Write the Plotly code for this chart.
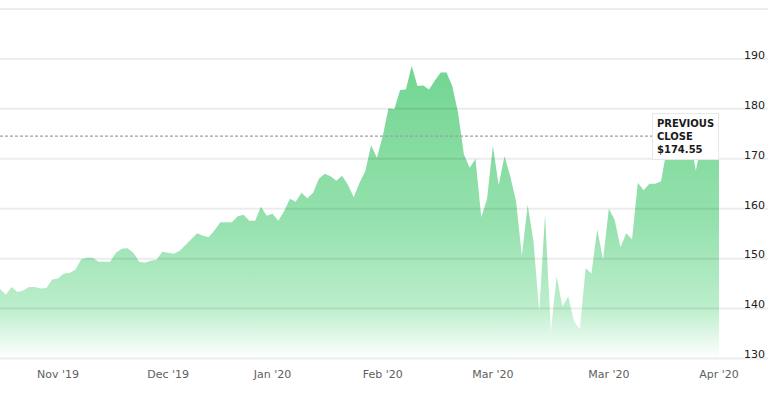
import plotly.graph_objects as go

# closing prices (one per trading session, in order)
prices = [143.9, 142.75, 144.3, 143.3, 143.6, 144.3, 144.3, 144.0, 144.1, 145.8,
          146.0, 147.0, 147.1, 147.8, 149.9, 150.2, 150.2, 149.4, 149.4, 149.4,
          151.2, 152.0, 152.1, 151.2, 149.4, 149.2, 149.6, 149.8, 151.4, 151.2,
          151.0, 151.6, 152.8, 153.8, 155.1, 154.6, 154.3, 155.7, 157.3, 157.3,
          157.3, 158.5, 158.8, 157.6, 157.6, 160.4, 158.6, 159.0, 157.6, 159.5,
          162.0, 161.4, 163.2, 162.1, 163.2, 166.0, 167.0, 166.5, 165.6, 166.6,
          164.8, 162.3, 165.2, 167.5, 172.7, 170.2, 174.5, 180.1, 179.9, 183.8,
          183.9, 188.6, 184.6, 184.7, 183.9, 185.7, 187.3, 187.3, 184.6, 179.2,
          170.9, 168.2, 170.0, 158.3, 162.0, 172.6, 164.7, 170.5, 166.5, 161.5,
          150.6, 160.8, 153.5, 139.4, 158.8, 135.4, 146.4, 140.4, 142.4, 137.4,
          135.9, 148.1, 147.0, 155.9, 149.8, 160.0, 157.8, 152.3, 155.1, 153.9,
          165.2, 163.7, 165.0, 165.0, 165.5, 172.0, 174.0, 175.5, 176.0, 174.5,
          167.6, 173.5, 175.0, 174.55, 176.5]
session = list(range(len(prices)))

previous_close = 174.55

x_tick_positions = [10, 29, 47, 66, 85, 105, 124]
x_tick_labels = ["Nov '19", "Dec '19", "Jan '20", "Feb '20", "Mar '20", "Mar '20", "Apr '20"]

y_tick_values = [130, 140, 150, 160, 170, 180, 190, 200]
y_tick_labels = ["130", "140", "150", "160", "170", "180", "190", ""]

fig = go.Figure()
fig.add_trace(go.Scatter(
    x=session, y=prices, mode="lines", fill="tozeroy",
    line=dict(width=0, color="rgba(112,213,144,1)"),
    fillgradient=dict(
        type="vertical", start=130, stop=190,
        colorscale=[[0, "rgba(255,255,255,1)"],
                    [0.17, "rgb(188,238,204)"],
                    [0.45, "rgb(150,225,174)"],
                    [1, "rgb(112,213,144)"]],
    ),
    hoverinfo="skip", showlegend=False,
))

# horizontal grid lines drawn above the area so they show through it
for v in y_tick_values:
    fig.add_shape(type="line", xref="paper", yref="y", x0=0, x1=1, y0=v, y1=v,
                  line=dict(color="rgba(0,0,0,0.075)", width=2), layer="above")

fig.add_shape(type="line", xref="x", yref="y",
              x0=0, x1=session[-1], y0=previous_close, y1=previous_close,
              line=dict(color="#a0a0a0", width=1.2, dash="3px,2px"), layer="above")

fig.add_annotation(
    x=session[-1], y=previous_close, xref="x", yref="y",
    xanchor="right", yanchor="middle", showarrow=False, align="left",
    text="PREVIOUS<br>CLOSE<br>$%.2f" % previous_close,
    font=dict(family="DejaVu Sans", size=10, color="#1a1a1a", weight="bold"),
    bgcolor="white", bordercolor="#e8e8e8", borderwidth=1, borderpad=4,
)

fig.update_layout(
    width=768, height=398,
    margin=dict(l=0, r=0, t=6, b=37),
    paper_bgcolor="white", plot_bgcolor="white",
    xaxis=dict(range=[0, 132.45], showgrid=False, zeroline=False, showline=False,
               tickmode="array", tickvals=x_tick_positions, ticktext=x_tick_labels,
               tickfont=dict(family="DejaVu Sans", size=11, color="#606060"),
               ticks="", ticklabelstandoff=5),
    yaxis=dict(range=[129.5, 200.6], side="right", showgrid=False,
               zeroline=False, showline=False,
               tickmode="array", tickvals=y_tick_values, ticktext=y_tick_labels,
               ticklabelposition="inside", ticklabelshift=-4, ticklabeloverflow="allow",
               tickfont=dict(family="DejaVu Sans", size=11, color="#222222"),
               ticks=""),
)

fig.write_html("out.html", config={"displayModeBar": False},
               post_script="document.body.style.margin='0px';")
